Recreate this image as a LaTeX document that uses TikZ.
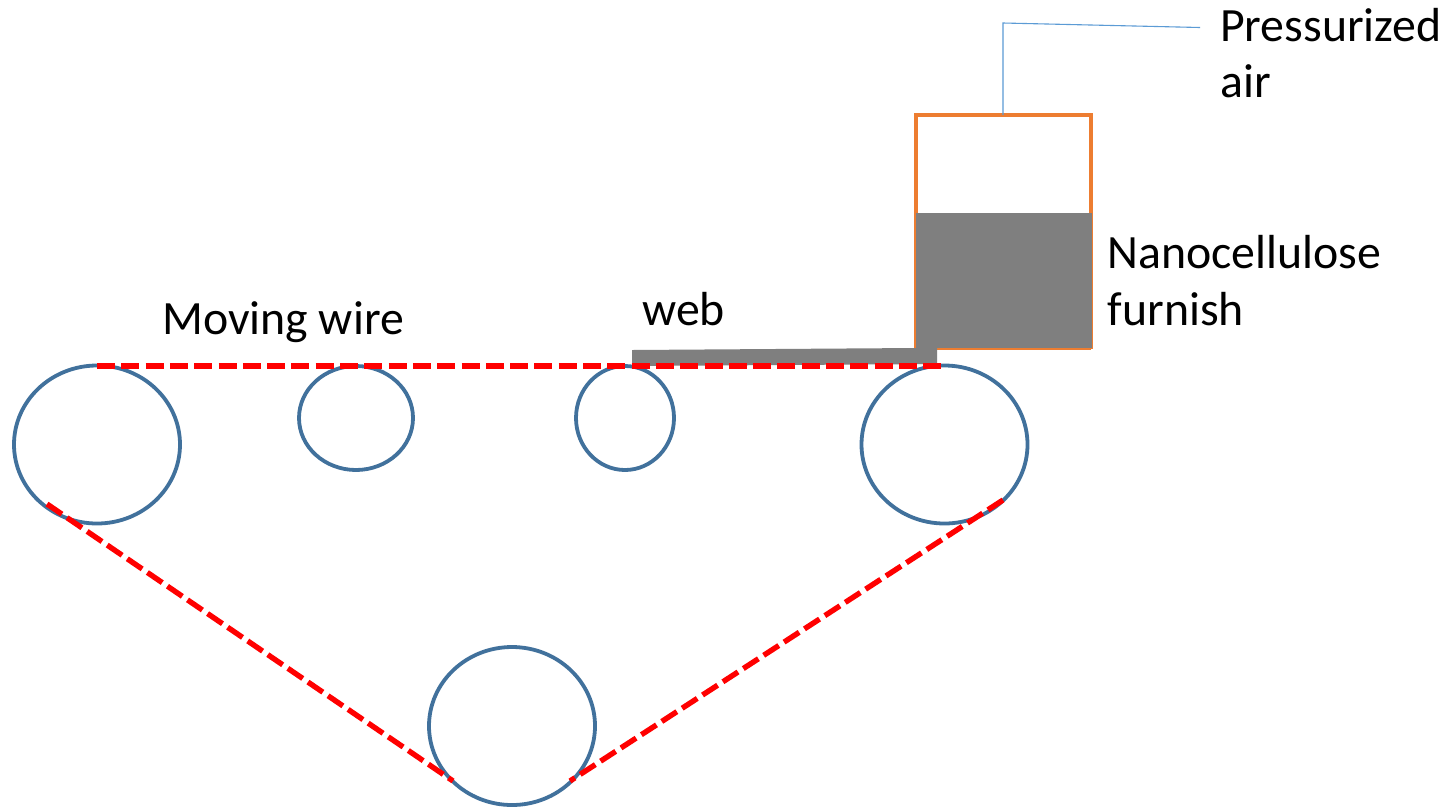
\documentclass[tikz,border=0pt]{standalone}
\usepackage{fontspec}
\setmainfont{Carlito}
\begin{document}
\begin{tikzpicture}[x=1pt,y=-1pt,
  roller/.style={draw=rollerblue,line width=3.8pt},
  wire/.style={draw=red,line width=5.4pt,dash pattern=on 18pt off 6.3pt},
  lbl/.style={anchor=west,font=\fontsize{47.8}{47.8}\selectfont,inner sep=0pt,text=black}]
\definecolor{rollerblue}{HTML}{41719C}
\definecolor{tankorange}{HTML}{ED7D31}
\definecolor{furnish}{HTML}{7F7F7F}
\definecolor{airblue}{HTML}{5B9BD5}
\useasboundingbox (0,0) rectangle (1447,807);
\fill[white] (0,0) rectangle (1447,807);
\draw[roller] (97,444.5) ellipse (83 and 79);
\draw[roller] (356,418) ellipse (57 and 52);
\draw[roller] (625,418) ellipse (49 and 52);
\draw[roller] (944.5,444.5) ellipse (83 and 79);
\draw[roller] (512,726) ellipse (83 and 79);
\draw[tankorange,line width=3.2pt] (916,349) -- (916,115) -- (1091,115) -- (1091,349);
\draw[tankorange,line width=2pt] (1091,349) -- (937,349);
\fill[furnish] (916,213) rectangle (1092,348);
\fill[furnish] (632,350) -- (916,348) -- (937,348) -- (937,364) -- (632,366) -- cycle;
\coordinate (a) at (1003,115);
\coordinate (b) at (1003,23);
\coordinate (c) at (1200,27.5);
\draw[airblue,line width=1.1pt] (a) -- (b) -- (c);
\coordinate (w1) at (97,366);
\coordinate (w2) at (942,366);
\coordinate (w3) at (47,504);
\coordinate (w4) at (453,781);
\coordinate (w5) at (1003,500);
\coordinate (w6) at (570,781);
\draw[wire] (w1) -- (w2);
\draw[wire] (w3) -- (w4);
\draw[wire] (w5) -- (w6);
\node[lbl] (t1) at (1220,25) {Pressurized};
\node[lbl] (t2) at (1220,81) {air};
\node[lbl] (t3) at (1107.5,252.5) {Nanocellulose};
\node[lbl] (t4) at (1107.5,309) {furnish};
\node[lbl] (t5) at (162,322.5) {Moving wire};
\node[lbl] (t6) at (642,309) {web};
\end{tikzpicture}
\end{document}
